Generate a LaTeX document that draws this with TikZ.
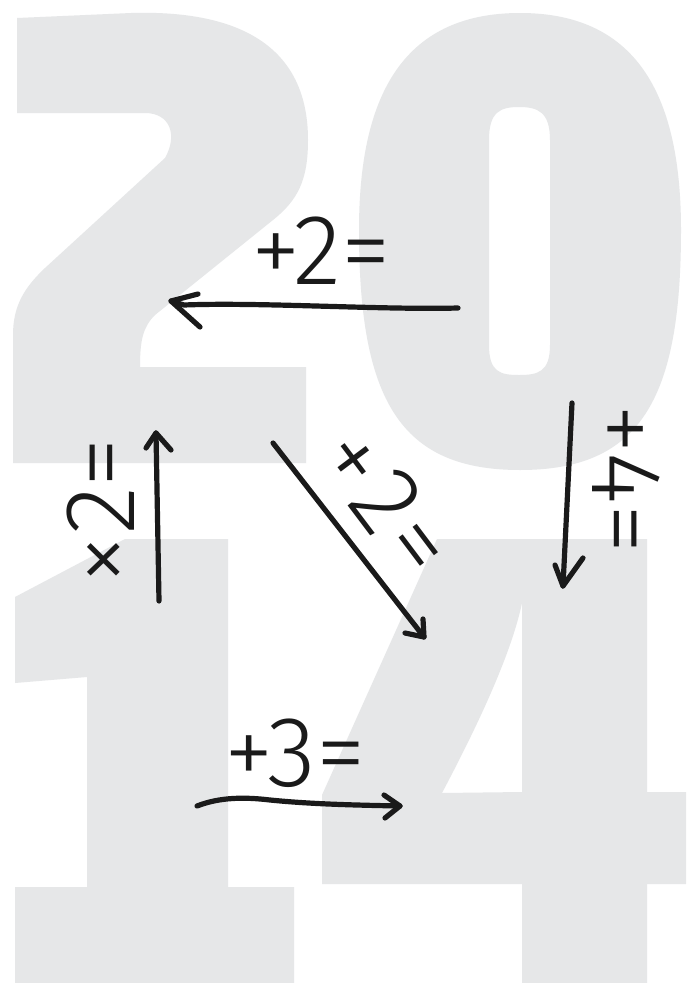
\documentclass[tikz,border=0pt]{standalone}
\usepackage{fontspec}
\newfontfamily\handfont{Fira Sans Light}
\definecolor{digitgrey}{HTML}{E6E7E8}
\definecolor{ink}{HTML}{1A1A1A}
\tikzset{
  bigdigit/.style={fill=digitgrey, draw=none},
  pen/.style={draw=ink, line width=5.2pt, line cap=round, line join=round},
  handlabel/.style={font=\handfont\fontsize{100}{100}\selectfont, text=ink, inner sep=0pt, anchor=base},
}
\begin{document}
\begin{tikzpicture}[x=1pt,y=-1pt]
\useasboundingbox (0,0) rectangle (686,983);
\fill[white] (0,0) rectangle (686,983);
% digit 2
\path[bigdigit] (17,18) -- (131,13) .. controls (230,10) and (308,40) .. (308,140)
  .. controls (308,180) and (298,200) .. (273,220) -- (155,315)
  .. controls (143,327) and (140,340) .. (140,367) -- (306,367) -- (306,463) -- (13,463) -- (13,335)
  .. controls (13,305) and (25,287) .. (45,268) -- (165,158)
  .. controls (178,135) and (170,113) .. (145,113) -- (17,113) -- cycle;
% digit 0
\path[bigdigit, even odd rule] (520,13) .. controls (640,13) and (681,100) .. (681,230)
  .. controls (681,400) and (640,470) .. (520,470)
  .. controls (400,470) and (359,400) .. (359,230)
  .. controls (359,100) and (400,13) .. (520,13) -- cycle
  (519,107) .. controls (538,107) and (550,112) .. (550,140) -- (550,345)
  .. controls (550,372) and (538,375) .. (519,375)
  .. controls (500,375) and (489,372) .. (489,345) -- (489,140)
  .. controls (489,112) and (500,107) .. (519,107) -- cycle;
% digit 1
\path[bigdigit] (125,539) -- (228,539) -- (228,887) -- (294,887) -- (294,983) -- (15,983)
  -- (15,887) -- (87,887) -- (87,677) -- (15,683) -- (15,597) -- cycle;
% digit 4
\path[bigdigit, even odd rule] (437,539) -- (647,539) -- (647,792) -- (686,792) -- (686,884)
  -- (647,884) -- (647,983) -- (522,983) -- (522,884) -- (322,884) -- (322,795) -- cycle
  (522,603) -- (522,792) -- (442,793) .. controls (470,740) and (510,660) .. (522,603) -- cycle;

% arrows
\coordinate (a1s) at (458,308);
\coordinate (a1t) at (171,301);
\draw[pen] (a1s) .. controls (380,310) and (260,302) .. (184,305) -- (a1t);
\draw[pen] ([shift={(27,-7)}]a1t) -- (a1t) -- ([shift={(29,26)}]a1t);

\coordinate (a2s) at (159,601);
\coordinate (a2t) at (156,433);
\draw[pen] (a2s) -- (a2t);
\draw[pen] ([shift={(-10,15)}]a2t) -- (a2t) -- ([shift={(15,17)}]a2t);

\coordinate (a3s) at (273,443);
\coordinate (a3t) at (424,637);
\draw[pen] (a3s) -- (a3t);
\draw[pen] ([shift={(-1,-18)}]a3t) -- (a3t) -- ([shift={(-19,-4)}]a3t);

\coordinate (a4s) at (572,403);
\coordinate (a4t) at (563,586);
\draw[pen] (a4s) -- (a4t);
\draw[pen] ([shift={(-8,-21)}]a4t) -- (a4t) -- ([shift={(20,-28)}]a4t);

\coordinate (a5s) at (197,806);
\coordinate (a5t) at (400,806);
\draw[pen] (a5s) .. controls (220,797) and (245,797) .. (270,800) .. controls (310,804) and (350,805) .. (a5t);
\draw[pen] ([shift={(-16,-11)}]a5t) -- (a5t) -- ([shift={(-15,12)}]a5t);

% labels
\node[handlabel] (l1) at (321,284) {+2=};
\node[handlabel, rotate=90] (l2) at (134,511) {×2=};
\node[handlabel, rotate=-53] (l3) at (360,522) {+\kern5pt2\kern5pt=};
\node[handlabel, rotate=-90] (l4) at (592,479) {+4=};
\node[handlabel] (l5) at (295,786) {+3=};
\end{tikzpicture}
\end{document}
